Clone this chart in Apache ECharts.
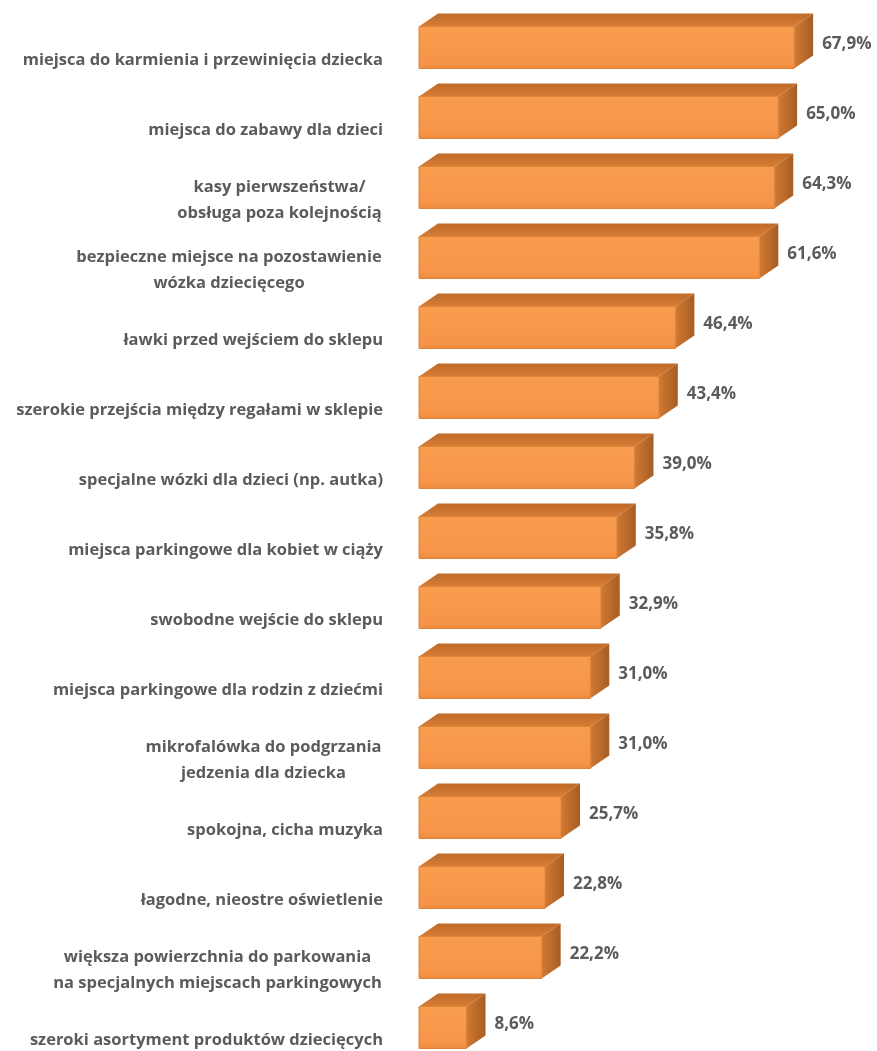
<!DOCTYPE html>
<html>
<head>
<meta charset="utf-8">
<script src="https://cdn.jsdelivr.net/npm/echarts@6/dist/echarts.min.js"></script>
<style>
	html, body { margin: 0; padding: 0; background: #ffffff; }
	#chart { width: 877px; height: 1051px; }
</style>
</head>
<body>
<div id="chart"></div>
<script>
	// categories, top to bottom
	const categories = [
		"miejsca do karmienia i przewinięcia dziecka",
		"miejsca do zabawy dla dzieci",
		"kasy pierwszeństwa/\nobsługa poza kolejnością",
		"bezpieczne miejsce na pozostawienie\nwózka dziecięcego",
		"ławki przed wejściem do sklepu",
		"szerokie przejścia między regałami w sklepie",
		"specjalne wózki dla dzieci (np. autka)",
		"miejsca parkingowe dla kobiet w ciąży",
		"swobodne wejście do sklepu",
		"miejsca parkingowe dla rodzin z dziećmi",
		"mikrofalówka do podgrzania\njedzenia dla dziecka",
		"spokojna, cicha muzyka",
		"łagodne, nieostre oświetlenie",
		"większa powierzchnia do parkowania\nna specjalnych miejscach parkingowych",
		"szeroki asortyment produktów dziecięcych"
	];
	const values = [67.9, 65.0, 64.3, 61.6, 46.4, 43.4, 39.0, 35.8, 32.9, 31.0, 31.0, 25.7, 22.8, 22.2, 8.6];

	const labelFamily = "Open Sans";
	const labelSize = 16.5;
	const labelColor = "#5b5b5b";

	// measure widths so multi-line labels get centred lines inside a right-aligned block
	const measureCtx = document.createElement("canvas").getContext("2d");
	measureCtx.font = "bold " + labelSize + "px \"" + labelFamily + "\"";
	const rich = {};
	categories.forEach((c, i) => {
		const lines = c.split("\n");
		if (lines.length > 1) {
			const w = Math.max(...lines.map(l => measureCtx.measureText(l).width));
			rich["c" + i] = {
				width: Math.ceil(w) + 2,
				align: "center",
				fontFamily: labelFamily,
				fontWeight: "bold",
				fontSize: labelSize,
				color: labelColor,
				lineHeight: 26
			};
		}
	});

	const depthX = 19;
	const depthY = 13;
	const faceH = 42;

	const chart = echarts.init(document.getElementById("chart"));

	chart.setOption({
		animation: false,
		backgroundColor: "#ffffff",
		grid: {
			left: 419,
			top: 12.5,
			height: 1050,
			width: 442,
			outerBoundsMode: "none",
			containLabel: false
		},
		xAxis: {
			type: "value",
			min: 0,
			max: 80,
			show: false
		},
		yAxis: {
			type: "category",
			inverse: true,
			data: categories,
			axisLine: { show: false },
			axisTick: { show: false },
			splitLine: { show: false },
			axisLabel: {
				margin: 36,
				fontFamily: labelFamily,
				fontWeight: "bold",
				fontSize: labelSize,
				color: labelColor,
				lineHeight: 26,
				padding: [26, 0, 0, 0],
				rich: rich,
				formatter: (value, idx) => {
					if (rich["c" + idx]) {
						return value.split("\n").map(l => "{c" + idx + "|" + l + "}").join("\n");
					}
					return value;
				}
			}
		},
		series: [
			{
				type: "custom",
				encode: { x: 0, y: 1 },
				data: values.map((v, i) => [v, i]),
				renderItem: (params, api) => {
					const v = api.value(0);
					const idx = api.value(1);
					const p0 = api.coord([0, idx]);
					const p1 = api.coord([v, idx]);
					const x0 = p0[0];
					const x1 = p1[0];
					const yc = p0[1];
					const top = yc - faceH / 2;
					const bot = yc + faceH / 2;
					const fmt = v.toFixed(1).replace(".", ",") + "%";
					return {
						type: "group",
						children: [
							{
								type: "polygon",
								shape: { points: [[x0, top], [x0 + depthX, top - depthY], [x1 + depthX, top - depthY], [x1, top]] },
								style: {
									fill: new echarts.graphic.LinearGradient(0, 0, 0, 1, [
										{ offset: 0, color: "#c06a28" },
										{ offset: 1, color: "#d47d36" }
									])
								}
							},
							{
								type: "polygon",
								shape: { points: [[x1, top], [x1 + depthX, top - depthY], [x1 + depthX, bot - depthY], [x1, bot]] },
								style: {
									fill: new echarts.graphic.LinearGradient(0, 0, 1, 0, [
										{ offset: 0, color: "#d07a34" },
										{ offset: 1, color: "#a85c22" }
									])
								}
							},
							{
								type: "rect",
								shape: { x: x0, y: top, width: x1 - x0, height: faceH },
								style: {
									fill: new echarts.graphic.LinearGradient(0, 0, 0, 1, [
										{ offset: 0, color: "#f89c4e" },
										{ offset: 0.85, color: "#f6954a" },
										{ offset: 1, color: "#ec8a3c" }
									]),
									stroke: "#e1843a",
									lineWidth: 1
								}
							},
							{
								type: "text",
								x: x1 + depthX + 9,
								y: yc - 3,
								style: {
									text: fmt,
									fontFamily: labelFamily,
									fontWeight: "bold",
									fontSize: 17,
									fill: "#5b5b5b",
									align: "left",
									verticalAlign: "middle"
								}
							}
						]
					};
				}
			}
		]
	});
</script>
</body>
</html>
